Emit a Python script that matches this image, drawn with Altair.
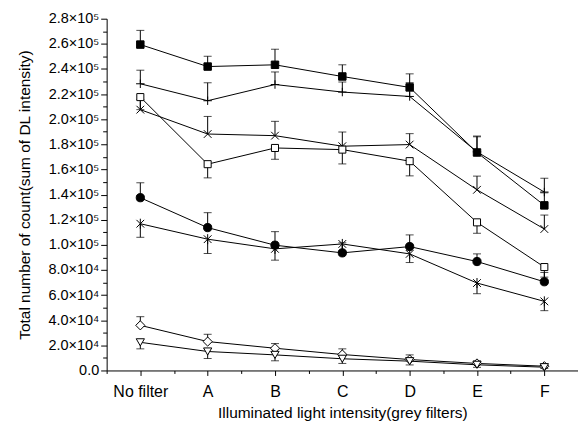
import json
import altair as alt
import pandas as pd

categories = ["No filter", "A", "B", "C", "D", "E", "F"]

sq_filled = [259400, 241900, 243300, 234000, 225300, 173500, 131400]
sq_filled_err = [11300, 8200, 12400, 9300, 10800, 13100, 10000]
plus = [228200, 214700, 227600, 221600, 218100, 174000, 142000]
plus_err = [10800, 14300, 10000, 8000, 11000, 12000, 11000]
xcross = [207600, 188200, 186900, 178500, 179800, 143800, 112600]
xcross_err = [8000, 14000, 11400, 11300, 8700, 10900, 11100]
sq_open = [217600, 164200, 177100, 175800, 166600, 117900, 82300]
sq_open_err = [10000, 10900, 9000, 11400, 11700, 8700, 8000]
circle = [137500, 113700, 99700, 93600, 98600, 86700, 70600]
circle_err = [11900, 11900, 10800, 8000, 9300, 6100, 7400]
star = [116800, 104500, 96800, 100700, 92800, 69600, 55000]
star_err = [10800, 11400, 9000, 6000, 6900, 8500, 7400]
diamond = [35900, 23000, 17700, 12700, 8700, 5600, 3400]
diamond_err = [6900, 5800, 3700, 4500, 3700, 2000, 1500]
tri = [22400, 15100, 12400, 9300, 7400, 4500, 2600]
tri_err = [5200, 5600, 4700, 3700, 3000, 2000, 1000]

# name, values, errors, error direction, marker shape, fill, size
series = [
    ("filled square", sq_filled, sq_filled_err, 1, "square", "black", 56),
    ("plus", plus, plus_err, 1, "M-1,0L1,0M0,-1L0,1", "transparent", 72),
    ("x", xcross, xcross_err, 1, "M-1,-1L1,1M-1,1L1,-1", "transparent", 60),
    ("open square", sq_open, sq_open_err, -1, "square", "white", 50),
    ("circle", circle, circle_err, 1, "circle", "black", 68),
    ("asterisk", star, star_err, -1, "M-1,-1L1,1M-1,1L1,-1M0,-1.3L0,1.3", "transparent", 60),
    ("diamond", diamond, diamond_err, 1, "diamond", "white", 84),
    ("triangle", tri, tri_err, -1, "triangle-down", "white", 68),
]

rows = []
for name, vals, errs, d, shape, fill, size in series:
    for i, (v, e) in enumerate(zip(vals, errs)):
        rows.append({"series": name, "xi": i, "cat": categories[i], "value": v,
                     "end": v + d * e})
df = pd.DataFrame(rows)

FONT = "Liberation Sans"
label_js = json.dumps(categories).replace('"', "'")

x_scale = alt.Scale(domain=[-0.5, 6.5], nice=False, zero=False)
y_scale = alt.Scale(domain=[0, 280000], nice=False)

x_axis = alt.Axis(
    values=[i * 0.5 - 0.5 for i in range(15)],
    labelExpr=f"datum.value % 1 == 0 ? {label_js}[datum.value] : ''",
    tickSize={"condition": {"test": "datum.value % 1 != 0", "value": 3}, "value": 5},
    title="Illuminated light intensity(grey filters)",
    labelOverlap=False,
    labelFlush=False,
    labelFontSize=16,
    labelPadding=8,
    titlePadding=6,
)
y_axis = alt.Axis(
    values=list(range(0, 280001, 10000)),
    labelExpr=("datum.value == 0 ? '0.0' : datum.value % 20000 != 0 ? '' : "
               "datum.value >= 100000 ? format(datum.value/100000, '.1f') + '×10⁵' : "
               "format(datum.value/10000, '.1f') + '×10⁴'"),
    tickSize={"condition": {"test": "datum.value % 20000 != 0", "value": 4}, "value": 6},
    title="Total number of count(sum of DL intensity)",
    labelOverlap=False,
    labelFlush=False,
    labelFontSize=14.5,
    labelPadding=2,
    titlePadding=15,
)


def X(field="xi"):
    return alt.X(f"{field}:Q", scale=x_scale, axis=x_axis)


def Y(field="value"):
    return alt.Y(f"{field}:Q", scale=y_scale, axis=y_axis)


base = alt.Chart(df)
lines = base.mark_line(color="black", strokeWidth=1).encode(
    x=X(), y=Y(), detail="series:N", order="xi:Q")
bars = base.mark_rule(color="black", strokeWidth=1).encode(
    x=X(), y=Y(), y2="end:Q")
caps = base.mark_tick(color="black", orient="horizontal", size=8, thickness=1).encode(
    x=X(), y=Y("end"))

layers = [lines, bars, caps]
for name, vals, errs, d, shape, fill, size in series:
    layers.append(
        base.transform_filter(alt.datum.series == name)
        .mark_point(shape=shape, filled=False, fill=fill, stroke="black",
                    strokeWidth=1, size=size, opacity=1, fillOpacity=1)
        .encode(x=X(), y=Y())
    )

chart = alt.layer(*layers).properties(
    width=473, height=353,
    autosize=alt.AutoSizeParams(type="none"),
    padding={"left": 99, "top": 10, "right": 0, "bottom": 55},
).configure_view(stroke=None).configure_axis(
    grid=False,
    domainColor="black",
    tickColor="black",
    labelColor="black",
    titleColor="black",
    labelFont=FONT,
    titleFont=FONT,
    titleFontSize=15.5,
    titleFontWeight="normal",
    labelOverlap=False,
)

chart.save("out.html", embed_options={"renderer": "svg", "actions": False})
